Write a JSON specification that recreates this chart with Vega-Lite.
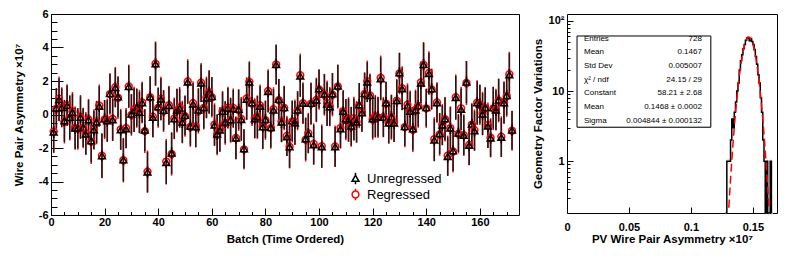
{
  "$schema": "https://vega.github.io/schema/vega-lite/v6.json",
  "padding": {"left": 12, "top": 7, "right": 10, "bottom": 4},
  "spacing": 11,
  "config": {
    "font": "Liberation Sans",
    "view": {"stroke": "#000000", "strokeWidth": 1},
    "axis": {
      "labelFont": "Liberation Sans", "labelFontWeight": "bold", "labelFontSize": 11, "labelColor": "#000000",
      "titleFont": "Liberation Sans", "titleFontWeight": "bold", "titleFontSize": 11.5, "titleColor": "#000000",
      "tickColor": "#000000", "grid": false, "domain": false, "labelFlush": false, "labelOverlap": false
    }
  },
  "datasets": {
    "hist": [
      {"lo":0.128,"hi":0.129,"n":0},{"lo":0.129,"hi":0.130,"n":1},{"lo":0.130,"hi":0.131,"n":1},{"lo":0.131,"hi":0.132,"n":1},
      {"lo":0.132,"hi":0.133,"n":2},{"lo":0.133,"hi":0.134,"n":4},{"lo":0.134,"hi":0.135,"n":3},{"lo":0.135,"hi":0.136,"n":5},
      {"lo":0.136,"hi":0.137,"n":7},{"lo":0.137,"hi":0.138,"n":10},{"lo":0.138,"hi":0.139,"n":13},{"lo":0.139,"hi":0.140,"n":20},
      {"lo":0.140,"hi":0.141,"n":27},{"lo":0.141,"hi":0.142,"n":33},{"lo":0.142,"hi":0.143,"n":40},{"lo":0.143,"hi":0.144,"n":46},
      {"lo":0.144,"hi":0.145,"n":53},{"lo":0.145,"hi":0.146,"n":57},{"lo":0.146,"hi":0.147,"n":58},{"lo":0.147,"hi":0.148,"n":52},
      {"lo":0.148,"hi":0.149,"n":56},{"lo":0.149,"hi":0.150,"n":51},{"lo":0.150,"hi":0.151,"n":46},{"lo":0.151,"hi":0.152,"n":39},
      {"lo":0.152,"hi":0.153,"n":31},{"lo":0.153,"hi":0.154,"n":24},{"lo":0.154,"hi":0.155,"n":17},{"lo":0.155,"hi":0.156,"n":13},
      {"lo":0.156,"hi":0.157,"n":8},{"lo":0.157,"hi":0.158,"n":5},{"lo":0.158,"hi":0.159,"n":2},{"lo":0.159,"hi":0.160,"n":1},
      {"lo":0.160,"hi":0.161,"n":0},{"lo":0.161,"hi":0.162,"n":1},{"lo":0.162,"hi":0.163,"n":0},{"lo":0.163,"hi":0.164,"n":0},
      {"lo":0.164,"hi":0.165,"n":1},{"lo":0.165,"hi":0.166,"n":0}
    ],
    "fit": [
      {"x":0.1306,"y":0.217},{"x":0.132,"y":0.547},{"x":0.134,"y":1.775},{"x":0.136,"y":4.84},{"x":0.138,"y":11.18},
      {"x":0.140,"y":21.73},{"x":0.142,"y":35.62},{"x":0.144,"y":49.26},{"x":0.1455,"y":56.15},{"x":0.1468,"y":58.21},
      {"x":0.148,"y":56.45},{"x":0.150,"y":46.8},{"x":0.152,"y":32.72},{"x":0.154,"y":19.29},{"x":0.156,"y":9.59},
      {"x":0.158,"y":4.02},{"x":0.160,"y":1.42},{"x":0.162,"y":0.424},{"x":0.163,"y":0.217}
    ],
    "stats": [
      {"i":1,"k":"Entries","t":"728"},{"i":2,"k":"Mean","t":"0.1467"},{"i":3,"k":"Std Dev","t":"0.005007"},
      {"i":4,"k":"χ² / ndf","t":"24.15 / 29"},{"i":5,"k":"Constant","t":"58.21 ± 2.68"},
      {"i":6,"k":"Mean","t":"0.1468 ± 0.0002"},{"i":7,"k":"Sigma","t":"0.004844 ± 0.000132"}
    ],
    "batches": [
{"b":1,"s":"R","v":-1.02,"e":1.27},{"b":1,"s":"U","v":-1.06,"e":1.22},
{"b":2,"s":"R","v":0.35,"e":1.23},{"b":2,"s":"U","v":0.38,"e":1.18},
{"b":3,"s":"R","v":0.94,"e":1.33},{"b":3,"s":"U","v":0.88,"e":1.28},
{"b":4,"s":"R","v":0.43,"e":1.20},{"b":4,"s":"U","v":0.41,"e":1.15},
{"b":5,"s":"R","v":-0.43,"e":1.30},{"b":5,"s":"U","v":-0.38,"e":1.25},
{"b":6,"s":"R","v":0.56,"e":1.25},{"b":6,"s":"U","v":0.53,"e":1.20},
{"b":7,"s":"R","v":-0.20,"e":1.35},{"b":7,"s":"U","v":-0.18,"e":1.30},
{"b":8,"s":"R","v":0.17,"e":1.17},{"b":8,"s":"U","v":0.12,"e":1.12},
{"b":9,"s":"R","v":-0.81,"e":1.29},{"b":9,"s":"U","v":-0.82,"e":1.24},
{"b":10,"s":"R","v":-0.86,"e":1.24},{"b":10,"s":"U","v":-0.82,"e":1.19},
{"b":11,"s":"R","v":-0.14,"e":1.31},{"b":11,"s":"U","v":-0.18,"e":1.26},
{"b":12,"s":"R","v":-0.81,"e":1.21},{"b":12,"s":"U","v":-0.78,"e":1.16},
{"b":13,"s":"R","v":-1.12,"e":1.27},{"b":13,"s":"U","v":-1.18,"e":1.22},
{"b":14,"s":"R","v":-0.30,"e":1.23},{"b":14,"s":"U","v":-0.32,"e":1.18},
{"b":15,"s":"R","v":-1.62,"e":1.33},{"b":15,"s":"U","v":-1.57,"e":1.28},
{"b":16,"s":"R","v":-0.89,"e":1.20},{"b":16,"s":"U","v":-0.92,"e":1.15},
{"b":17,"s":"R","v":-0.48,"e":1.30},{"b":17,"s":"U","v":-0.46,"e":1.25},
{"b":18,"s":"R","v":0.54,"e":1.25},{"b":18,"s":"U","v":0.49,"e":1.20},
{"b":19,"s":"R","v":-2.46,"e":1.35},{"b":19,"s":"U","v":-2.47,"e":1.30},
{"b":20,"s":"R","v":-0.30,"e":1.17},{"b":20,"s":"U","v":-0.26,"e":1.12},
{"b":21,"s":"R","v":-0.34,"e":1.29},{"b":21,"s":"U","v":-0.38,"e":1.24},
{"b":22,"s":"R","v":1.22,"e":1.24},{"b":22,"s":"U","v":1.25,"e":1.19},
{"b":23,"s":"R","v":-0.26,"e":1.31},{"b":23,"s":"U","v":-0.32,"e":1.26},
{"b":24,"s":"R","v":1.63,"e":1.21},{"b":24,"s":"U","v":1.61,"e":1.16},
{"b":25,"s":"R","v":1.00,"e":1.27},{"b":25,"s":"U","v":1.05,"e":1.22},
{"b":26,"s":"R","v":-0.89,"e":1.23},{"b":26,"s":"U","v":-0.92,"e":1.18},
{"b":27,"s":"R","v":-2.73,"e":1.33},{"b":27,"s":"U","v":-2.71,"e":1.28},
{"b":28,"s":"R","v":-0.81,"e":1.20},{"b":28,"s":"U","v":-0.86,"e":1.15},
{"b":29,"s":"R","v":1.68,"e":1.30},{"b":29,"s":"U","v":1.67,"e":1.25},
{"b":30,"s":"R","v":-0.02,"e":1.25},{"b":30,"s":"U","v":0.02,"e":1.20},
{"b":31,"s":"R","v":0.30,"e":1.35},{"b":31,"s":"U","v":0.26,"e":1.30},
{"b":32,"s":"R","v":0.38,"e":1.17},{"b":32,"s":"U","v":0.41,"e":1.12},
{"b":33,"s":"R","v":0.18,"e":1.29},{"b":33,"s":"U","v":0.12,"e":1.24},
{"b":34,"s":"R","v":0.72,"e":1.24},{"b":34,"s":"U","v":0.70,"e":1.19},
{"b":35,"s":"R","v":-0.99,"e":1.31},{"b":35,"s":"U","v":-0.94,"e":1.26},
{"b":36,"s":"R","v":-3.41,"e":1.26},{"b":36,"s":"U","v":-3.44,"e":1.21},
{"b":37,"s":"R","v":1.03,"e":1.27},{"b":37,"s":"U","v":1.05,"e":1.22},
{"b":38,"s":"R","v":-0.13,"e":1.23},{"b":38,"s":"U","v":-0.18,"e":1.18},
{"b":39,"s":"R","v":3.03,"e":1.33},{"b":39,"s":"U","v":3.02,"e":1.28},
{"b":40,"s":"R","v":0.41,"e":1.20},{"b":40,"s":"U","v":0.45,"e":1.15},
{"b":41,"s":"R","v":0.95,"e":1.30},{"b":41,"s":"U","v":0.91,"e":1.25},
{"b":42,"s":"R","v":0.21,"e":1.25},{"b":42,"s":"U","v":0.24,"e":1.20},
{"b":43,"s":"R","v":-2.81,"e":1.35},{"b":43,"s":"U","v":-2.87,"e":1.30},
{"b":44,"s":"R","v":0.55,"e":1.17},{"b":44,"s":"U","v":0.53,"e":1.12},
{"b":45,"s":"R","v":-2.36,"e":1.29},{"b":45,"s":"U","v":-2.31,"e":1.24},
{"b":46,"s":"R","v":-0.23,"e":1.24},{"b":46,"s":"U","v":-0.26,"e":1.19},
{"b":47,"s":"R","v":0.24,"e":1.31},{"b":47,"s":"U","v":0.26,"e":1.26},
{"b":48,"s":"R","v":0.43,"e":1.21},{"b":48,"s":"U","v":0.38,"e":1.16},
{"b":49,"s":"R","v":-0.45,"e":1.27},{"b":49,"s":"U","v":-0.46,"e":1.22},
{"b":50,"s":"R","v":-0.10,"e":1.23},{"b":50,"s":"U","v":-0.06,"e":1.18},
{"b":51,"s":"R","v":1.97,"e":1.33},{"b":51,"s":"U","v":1.93,"e":1.28},
{"b":52,"s":"R","v":-0.73,"e":1.20},{"b":52,"s":"U","v":-0.70,"e":1.15},
{"b":53,"s":"R","v":0.68,"e":1.30},{"b":53,"s":"U","v":0.62,"e":1.25},
{"b":54,"s":"R","v":-0.72,"e":1.25},{"b":54,"s":"U","v":-0.74,"e":1.20},
{"b":55,"s":"R","v":0.21,"e":1.35},{"b":55,"s":"U","v":0.26,"e":1.30},
{"b":56,"s":"R","v":1.90,"e":1.17},{"b":56,"s":"U","v":1.87,"e":1.12},
{"b":57,"s":"R","v":0.39,"e":1.29},{"b":57,"s":"U","v":0.41,"e":1.24},
{"b":58,"s":"R","v":1.02,"e":1.24},{"b":58,"s":"U","v":0.97,"e":1.19},
{"b":59,"s":"R","v":1.34,"e":1.31},{"b":59,"s":"U","v":1.33,"e":1.26},
{"b":60,"s":"R","v":1.03,"e":1.21},{"b":60,"s":"U","v":1.07,"e":1.16},
{"b":61,"s":"R","v":-0.60,"e":1.27},{"b":61,"s":"U","v":-0.64,"e":1.22},
{"b":62,"s":"R","v":-1.21,"e":1.23},{"b":62,"s":"U","v":-1.18,"e":1.18},
{"b":63,"s":"R","v":-0.88,"e":1.33},{"b":63,"s":"U","v":-0.94,"e":1.28},
{"b":64,"s":"R","v":0.20,"e":1.20},{"b":64,"s":"U","v":0.18,"e":1.15},
{"b":65,"s":"R","v":-0.51,"e":1.30},{"b":65,"s":"U","v":-0.46,"e":1.25},
{"b":66,"s":"R","v":0.41,"e":1.25},{"b":66,"s":"U","v":0.38,"e":1.20},
{"b":67,"s":"R","v":-0.34,"e":1.35},{"b":67,"s":"U","v":-0.32,"e":1.30},
{"b":68,"s":"R","v":0.39,"e":1.17},{"b":68,"s":"U","v":0.34,"e":1.12},
{"b":69,"s":"R","v":-1.40,"e":1.29},{"b":69,"s":"U","v":-1.41,"e":1.24},
{"b":70,"s":"R","v":0.26,"e":1.24},{"b":70,"s":"U","v":0.30,"e":1.19},
{"b":71,"s":"R","v":-0.26,"e":1.31},{"b":71,"s":"U","v":-0.30,"e":1.26},
{"b":72,"s":"R","v":-2.08,"e":1.21},{"b":72,"s":"U","v":-2.05,"e":1.16},
{"b":73,"s":"R","v":0.96,"e":1.27},{"b":73,"s":"U","v":0.90,"e":1.22},
{"b":74,"s":"R","v":1.95,"e":1.23},{"b":74,"s":"U","v":1.93,"e":1.18},
{"b":75,"s":"R","v":0.65,"e":1.33},{"b":75,"s":"U","v":0.70,"e":1.28},
{"b":76,"s":"R","v":-0.23,"e":1.20},{"b":76,"s":"U","v":-0.26,"e":1.15},
{"b":77,"s":"R","v":-0.16,"e":1.30},{"b":77,"s":"U","v":-0.14,"e":1.25},
{"b":78,"s":"R","v":0.54,"e":1.25},{"b":78,"s":"U","v":0.49,"e":1.20},
{"b":79,"s":"R","v":-0.73,"e":1.35},{"b":79,"s":"U","v":-0.74,"e":1.30},
{"b":80,"s":"R","v":-0.34,"e":1.17},{"b":80,"s":"U","v":-0.30,"e":1.12},
{"b":81,"s":"R","v":1.41,"e":1.29},{"b":81,"s":"U","v":1.37,"e":1.24},
{"b":82,"s":"R","v":-0.81,"e":1.24},{"b":82,"s":"U","v":-0.78,"e":1.19},
{"b":83,"s":"R","v":0.32,"e":1.31},{"b":83,"s":"U","v":0.26,"e":1.26},
{"b":84,"s":"R","v":2.99,"e":1.21},{"b":84,"s":"U","v":2.97,"e":1.16},
{"b":85,"s":"R","v":0.85,"e":1.27},{"b":85,"s":"U","v":0.90,"e":1.22},
{"b":86,"s":"R","v":-0.43,"e":1.23},{"b":86,"s":"U","v":-0.46,"e":1.18},
{"b":87,"s":"R","v":0.39,"e":1.33},{"b":87,"s":"U","v":0.41,"e":1.28},
{"b":88,"s":"R","v":-1.28,"e":1.20},{"b":88,"s":"U","v":-1.33,"e":1.15},
{"b":89,"s":"R","v":-1.92,"e":1.30},{"b":89,"s":"U","v":-1.93,"e":1.25},
{"b":90,"s":"R","v":-0.42,"e":1.25},{"b":90,"s":"U","v":-0.38,"e":1.20},
{"b":91,"s":"R","v":-0.46,"e":1.35},{"b":91,"s":"U","v":-0.50,"e":1.30},
{"b":92,"s":"R","v":0.23,"e":1.17},{"b":92,"s":"U","v":0.26,"e":1.12},
{"b":93,"s":"R","v":2.35,"e":1.29},{"b":93,"s":"U","v":2.29,"e":1.24},
{"b":94,"s":"R","v":0.68,"e":1.24},{"b":94,"s":"U","v":0.66,"e":1.19},
{"b":95,"s":"R","v":-1.50,"e":1.31},{"b":95,"s":"U","v":-1.45,"e":1.26},
{"b":96,"s":"R","v":-1.11,"e":1.21},{"b":96,"s":"U","v":-1.14,"e":1.16},
{"b":97,"s":"R","v":0.64,"e":1.27},{"b":97,"s":"U","v":0.66,"e":1.22},
{"b":98,"s":"R","v":-1.76,"e":1.23},{"b":98,"s":"U","v":-1.81,"e":1.18},
{"b":99,"s":"R","v":0.87,"e":1.33},{"b":99,"s":"U","v":0.86,"e":1.28},
{"b":100,"s":"R","v":1.49,"e":1.20},{"b":100,"s":"U","v":1.53,"e":1.15},
{"b":101,"s":"R","v":-1.89,"e":1.30},{"b":101,"s":"U","v":-1.93,"e":1.25},
{"b":102,"s":"R","v":1.18,"e":1.25},{"b":102,"s":"U","v":1.21,"e":1.20},
{"b":103,"s":"R","v":0.68,"e":1.35},{"b":103,"s":"U","v":0.62,"e":1.30},
{"b":104,"s":"R","v":0.47,"e":1.17},{"b":104,"s":"U","v":0.45,"e":1.12},
{"b":105,"s":"R","v":1.18,"e":1.29},{"b":105,"s":"U","v":1.23,"e":1.24},
{"b":106,"s":"R","v":-1.90,"e":1.24},{"b":106,"s":"U","v":-1.93,"e":1.19},
{"b":107,"s":"R","v":1.67,"e":1.31},{"b":107,"s":"U","v":1.69,"e":1.26},
{"b":108,"s":"R","v":-0.81,"e":1.21},{"b":108,"s":"U","v":-0.86,"e":1.16},
{"b":109,"s":"R","v":0.19,"e":1.27},{"b":109,"s":"U","v":0.18,"e":1.22},
{"b":110,"s":"R","v":-0.30,"e":1.23},{"b":110,"s":"U","v":-0.26,"e":1.18},
{"b":111,"s":"R","v":-0.30,"e":1.33},{"b":111,"s":"U","v":-0.34,"e":1.28},
{"b":112,"s":"R","v":-0.73,"e":1.20},{"b":112,"s":"U","v":-0.70,"e":1.15},
{"b":113,"s":"R","v":-0.24,"e":1.30},{"b":113,"s":"U","v":-0.30,"e":1.25},
{"b":114,"s":"R","v":-0.44,"e":1.25},{"b":114,"s":"U","v":-0.46,"e":1.20},
{"b":115,"s":"R","v":0.53,"e":1.35},{"b":115,"s":"U","v":0.58,"e":1.30},
{"b":116,"s":"R","v":0.13,"e":1.17},{"b":116,"s":"U","v":0.10,"e":1.12},
{"b":117,"s":"R","v":1.23,"e":1.29},{"b":117,"s":"U","v":1.25,"e":1.24},
{"b":118,"s":"R","v":1.98,"e":1.24},{"b":118,"s":"U","v":1.93,"e":1.19},
{"b":119,"s":"R","v":1.14,"e":1.31},{"b":119,"s":"U","v":1.13,"e":1.26},
{"b":120,"s":"R","v":-0.30,"e":1.21},{"b":120,"s":"U","v":-0.26,"e":1.16},
{"b":121,"s":"R","v":-0.10,"e":1.27},{"b":121,"s":"U","v":-0.14,"e":1.22},
{"b":122,"s":"R","v":-0.17,"e":1.23},{"b":122,"s":"U","v":-0.14,"e":1.18},
{"b":123,"s":"R","v":2.19,"e":1.33},{"b":123,"s":"U","v":2.13,"e":1.28},
{"b":124,"s":"R","v":-0.16,"e":1.20},{"b":124,"s":"U","v":-0.18,"e":1.15},
{"b":125,"s":"R","v":0.65,"e":1.30},{"b":125,"s":"U","v":0.70,"e":1.25},
{"b":126,"s":"R","v":-0.49,"e":1.25},{"b":126,"s":"U","v":-0.52,"e":1.20},
{"b":127,"s":"R","v":-0.16,"e":1.35},{"b":127,"s":"U","v":-0.14,"e":1.30},
{"b":128,"s":"R","v":-0.47,"e":1.17},{"b":128,"s":"U","v":-0.52,"e":1.12},
{"b":129,"s":"R","v":0.83,"e":1.29},{"b":129,"s":"U","v":0.82,"e":1.24},
{"b":130,"s":"R","v":2.45,"e":1.24},{"b":130,"s":"U","v":2.49,"e":1.19},
{"b":131,"s":"R","v":1.57,"e":1.31},{"b":131,"s":"U","v":1.53,"e":1.26},
{"b":132,"s":"R","v":-0.75,"e":1.21},{"b":132,"s":"U","v":-0.72,"e":1.16},
{"b":133,"s":"R","v":0.59,"e":1.27},{"b":133,"s":"U","v":0.53,"e":1.22},
{"b":134,"s":"R","v":0.20,"e":1.23},{"b":134,"s":"U","v":0.18,"e":1.18},
{"b":135,"s":"R","v":-0.91,"e":1.33},{"b":135,"s":"U","v":-0.86,"e":1.28},
{"b":136,"s":"R","v":0.29,"e":1.20},{"b":136,"s":"U","v":0.26,"e":1.15},
{"b":137,"s":"R","v":0.51,"e":1.30},{"b":137,"s":"U","v":0.53,"e":1.25},
{"b":138,"s":"R","v":1.92,"e":1.25},{"b":138,"s":"U","v":1.87,"e":1.20},
{"b":139,"s":"R","v":2.98,"e":1.35},{"b":139,"s":"U","v":2.97,"e":1.30},
{"b":140,"s":"R","v":0.37,"e":1.17},{"b":140,"s":"U","v":0.41,"e":1.12},
{"b":141,"s":"R","v":2.48,"e":1.29},{"b":141,"s":"U","v":2.44,"e":1.24},
{"b":142,"s":"R","v":1.50,"e":1.24},{"b":142,"s":"U","v":1.53,"e":1.19},
{"b":143,"s":"R","v":-1.47,"e":1.31},{"b":143,"s":"U","v":-1.53,"e":1.26},
{"b":144,"s":"R","v":0.72,"e":1.21},{"b":144,"s":"U","v":0.70,"e":1.16},
{"b":145,"s":"R","v":-1.19,"e":1.27},{"b":145,"s":"U","v":-1.14,"e":1.22},
{"b":146,"s":"R","v":-0.61,"e":1.23},{"b":146,"s":"U","v":-0.64,"e":1.18},
{"b":147,"s":"R","v":-0.28,"e":1.33},{"b":147,"s":"U","v":-0.26,"e":1.28},
{"b":148,"s":"R","v":-2.46,"e":1.20},{"b":148,"s":"U","v":-2.51,"e":1.15},
{"b":149,"s":"R","v":-0.81,"e":1.30},{"b":149,"s":"U","v":-0.82,"e":1.25},
{"b":150,"s":"R","v":-2.21,"e":1.25},{"b":150,"s":"U","v":-2.17,"e":1.20},
{"b":151,"s":"R","v":1.04,"e":1.35},{"b":151,"s":"U","v":1.00,"e":1.30},
{"b":152,"s":"R","v":-1.15,"e":1.17},{"b":152,"s":"U","v":-1.12,"e":1.12},
{"b":153,"s":"R","v":0.36,"e":1.29},{"b":153,"s":"U","v":0.30,"e":1.24},
{"b":154,"s":"R","v":-1.23,"e":1.24},{"b":154,"s":"U","v":-1.25,"e":1.19},
{"b":155,"s":"R","v":1.88,"e":1.31},{"b":155,"s":"U","v":1.93,"e":1.26},
{"b":156,"s":"R","v":-1.82,"e":1.21},{"b":156,"s":"U","v":-1.85,"e":1.16},
{"b":157,"s":"R","v":-0.60,"e":1.27},{"b":157,"s":"U","v":-0.58,"e":1.22},
{"b":158,"s":"R","v":-0.93,"e":1.23},{"b":158,"s":"U","v":-0.98,"e":1.18},
{"b":159,"s":"R","v":0.71,"e":1.33},{"b":159,"s":"U","v":0.70,"e":1.28},
{"b":160,"s":"R","v":0.58,"e":1.20},{"b":160,"s":"U","v":0.62,"e":1.15},
{"b":161,"s":"R","v":0.06,"e":1.30},{"b":161,"s":"U","v":0.02,"e":1.25},
{"b":162,"s":"R","v":0.38,"e":1.25},{"b":162,"s":"U","v":0.41,"e":1.20},
{"b":163,"s":"R","v":-0.64,"e":1.35},{"b":163,"s":"U","v":-0.70,"e":1.30},
{"b":164,"s":"R","v":-1.39,"e":1.17},{"b":164,"s":"U","v":-1.41,"e":1.12},
{"b":165,"s":"R","v":0.36,"e":1.29},{"b":165,"s":"U","v":0.41,"e":1.24},
{"b":166,"s":"R","v":0.29,"e":1.24},{"b":166,"s":"U","v":0.26,"e":1.19},
{"b":167,"s":"R","v":0.84,"e":1.31},{"b":167,"s":"U","v":0.86,"e":1.26},
{"b":168,"s":"R","v":-1.32,"e":1.21},{"b":168,"s":"U","v":-1.37,"e":1.16},
{"b":169,"s":"R","v":0.71,"e":1.27},{"b":169,"s":"U","v":0.70,"e":1.22},
{"b":170,"s":"R","v":1.09,"e":1.23},{"b":170,"s":"U","v":1.13,"e":1.18},
{"b":171,"s":"R","v":2.41,"e":1.33},{"b":171,"s":"U","v":2.37,"e":1.28},
{"b":172,"s":"R","v":-0.97,"e":1.20},{"b":172,"s":"U","v":-0.94,"e":1.15}
    ]
  },
  "hconcat": [
    {
      "width": 468,
      "height": 201,
      "data": {"name": "batches"},
      "encoding": {
        "x": {"field": "b", "type": "quantitative",
          "scale": {"domain": [0, 174.6], "nice": false, "zero": false},
          "axis": {"title": "Batch (Time Ordered)", "values": [0,5,10,15,20,25,30,35,40,45,50,55,60,65,70,75,80,85,90,95,100,105,110,115,120,125,130,135,140,145,150,155,160,165,170],
            "format": "~g", "labelOverlap": false,
            "labelExpr": "datum.value % 20 === 0 ? datum.label : ''",
            "tickSize": {"condition": {"test": "datum.value % 20 === 0", "value": -7}, "value": -3.5},
            "labelPadding": 8, "titlePadding": 3}},
        "y": {"field": "v", "type": "quantitative",
          "scale": {"domain": [-6, 6], "nice": false},
          "axis": {"title": "Wire Pair Asymmetry ×10⁷", "values": [-6,-5.5,-5,-4.5,-4,-3.5,-3,-2.5,-2,-1.5,-1,-0.5,0,0.5,1,1.5,2,2.5,3,3.5,4,4.5,5,5.5,6],
            "format": "~g", "labelOverlap": false,
            "labelExpr": "datum.value % 2 === 0 ? replace(datum.label, '−', '-') : ''",
            "tickSize": {"condition": {"test": "datum.value % 2 === 0", "value": -12}, "value": -6},
            "labelPadding": 15, "titlePadding": 14}}
      },
      "layer": [
        {
          "transform": [{"filter": "datum.s === 'R'"}],
          "mark": {"type": "errorbar", "thickness": 1.5, "color": "#ff0000"},
          "encoding": {"yError": {"field": "e"}}
        },
        {
          "transform": [{"filter": "datum.s === 'U'"}],
          "mark": {"type": "errorbar", "thickness": 1.5, "color": "#1a1a1a"},
          "encoding": {"yError": {"field": "e"}}
        },
        {
          "mark": {"type": "point", "filled": false, "strokeWidth": 1.5, "size": 130, "opacity": 1},
          "encoding": {
            "color": {"field": "s", "type": "nominal", "scale": {"domain": ["U", "R"], "range": ["#000000", "#ff0000"]},
              "legend": {"title": null, "orient": "none", "legendX": 298, "legendY": 158, "labelExpr": "datum.label == 'U' ? 'Unregressed' : 'Regressed'", "labelFont": "Liberation Sans", "labelFontSize": 13, "labelColor": "#000000", "symbolStrokeWidth": 1.5, "symbolSize": 130, "labelOffset": 5, "rowPadding": -3, "padding": 0}},
            "shape": {"field": "s", "type": "nominal",
              "scale": {"domain": ["U", "R"], "range": ["M0,-0.55L0.6,0.5L-0.6,0.5ZM0,-0.55L0,-1M0,0.5L0,1", "M0.6,0A0.6,0.6 0 1,1 -0.6,0A0.6,0.6 0 1,1 0.6,0ZM0,-0.6L0,-1M0,0.6L0,1"]},
              "legend": {"title": null, "orient": "none", "legendX": 298, "legendY": 158, "labelExpr": "datum.label == 'U' ? 'Unregressed' : 'Regressed'", "labelFont": "Liberation Sans", "labelFontSize": 13, "labelColor": "#000000", "symbolStrokeWidth": 1.5, "symbolSize": 130, "labelOffset": 5, "rowPadding": -3, "padding": 0}}
          }
        },
        {
          "data": {"values": [{}]},
          "mark": {"type": "rule", "color": "#ff0000", "strokeWidth": 1.5},
          "encoding": {"x": null, "y": {"datum": 0.08}}
        }
      ]
    },
    {
      "width": 210,
      "height": 199,
      "layer": [
        {
          "layer": [
            {
              "data": {"name": "hist"},
              "mark": {"type": "bar", "fill": "#e4e4e4", "strokeWidth": 0},
              "encoding": {
                "x": {"field": "lo", "type": "quantitative",
                  "scale": {"domain": [0, 0.1695], "nice": false, "zero": false},
                  "axis": {"title": "PV Wire Pair Asymmetry ×10⁷", "labelOverlap": false, "format": "~g",
                    "values": [0, 0.05, 0.1, 0.15],
                    "tickSize": -6,
                    "labelPadding": 14, "titlePadding": 1}},
                "x2": {"field": "hi"},
                "y": {"field": "n", "type": "quantitative",
                  "scale": {"type": "log", "domain": [0.215, 106.4], "nice": false, "clamp": true},
                  "axis": {"title": "Geometry Factor Variations", "labelOverlap": false,
                    "values": [0.3,0.4,0.5,0.6,0.7,0.8,0.9,1,2,3,4,5,6,7,8,9,10,20,30,40,50,60,70,80,90,100],
                    "labelExpr": "datum.value == 100 ? '10²' : (datum.value == 10 ? '10' : (datum.value == 1 ? '1' : ''))",
                    "tickSize": {"condition": {"test": "datum.value == 1 || datum.value == 10 || datum.value == 100", "value": -6}, "value": -3},
                    "labelPadding": 9, "titlePadding": 5}}
              }
            },
            {
              "data": {"name": "hist"},
              "mark": {"type": "line", "interpolate": "step-after", "color": "#000000", "strokeWidth": 1.5, "invalid": "show"},
              "encoding": {
                "x": {"field": "lo", "type": "quantitative"},
                "y": {"field": "n", "type": "quantitative"}
              }
            },
            {
              "data": {"name": "fit"},
              "mark": {"type": "line", "interpolate": "monotone", "color": "#ff0000", "strokeWidth": 1.5, "strokeDash": [8, 4]},
              "encoding": {
                "x": {"field": "x", "type": "quantitative"},
                "y": {"field": "y", "type": "quantitative"}
              }
            },
            {
              "data": {"values": [{}]},
              "mark": {"type": "rect", "fill": "#000000", "xOffset": 1.5, "yOffset": 1.5},
              "encoding": {"x": {"datum": 0.0081}, "x2": {"datum": 0.1161}, "y": {"datum": 60.9}, "y2": {"datum": 3.05}}
            },
            {
              "data": {"values": [{}]},
              "mark": {"type": "rect", "fill": "#ffffff", "stroke": "#000000", "strokeWidth": 1},
              "encoding": {"x": {"datum": 0.0081}, "x2": {"datum": 0.1161}, "y": {"datum": 60.9}, "y2": {"datum": 3.05}}
            }
          ]
        },
        {
          "data": {"name": "stats"},
          "encoding": {
            "y": {"field": "i", "type": "quantitative", "scale": {"domain": [-0.8, 13.73], "reverse": true, "nice": false, "zero": false}, "axis": null}
          },
          "layer": [
            {
              "mark": {"type": "text", "align": "left", "baseline": "middle", "font": "Liberation Sans", "fontSize": 8, "color": "#000000"},
              "encoding": {"x": {"datum": 0.0137}, "text": {"field": "k"}}
            },
            {
              "mark": {"type": "text", "align": "right", "baseline": "middle", "font": "Liberation Sans", "fontSize": 8, "color": "#000000"},
              "encoding": {"x": {"datum": 0.1089}, "text": {"field": "t"}}
            }
          ]
        }
      ],
      "resolve": {"scale": {"y": "independent"}}
    }
  ]
}
